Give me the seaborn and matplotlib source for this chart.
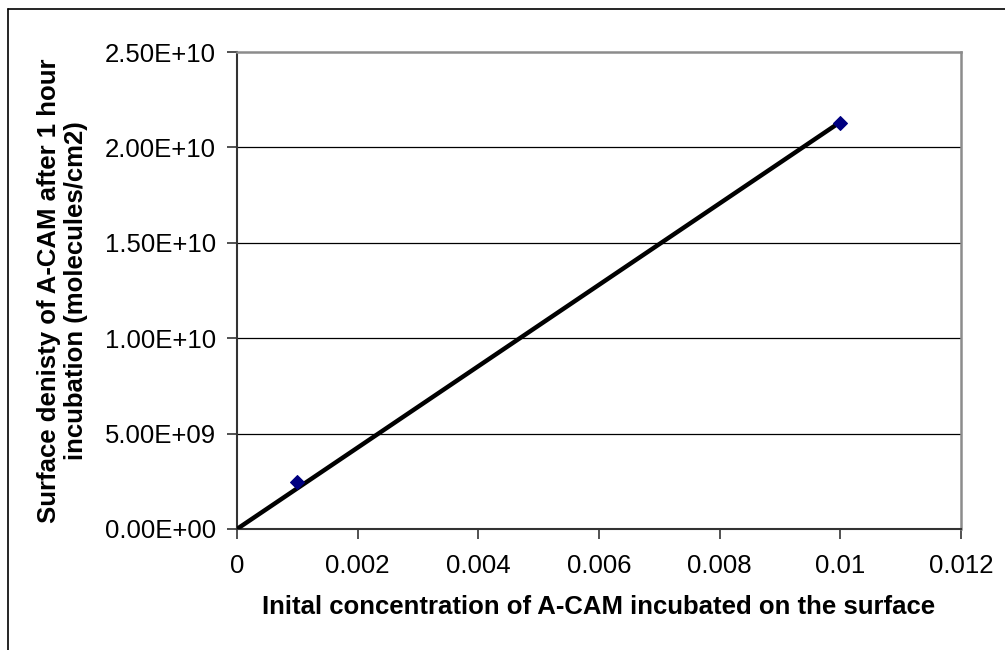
import numpy as np
import pandas as pd
import matplotlib
matplotlib.use("Agg")
import matplotlib.pyplot as plt
import seaborn as sns
from matplotlib.lines import Line2D

# ---- data ----
concentration = [0.001, 0.01]
surface_density = [2.45e9, 2.13e10]
x_ticks = [0, 0.002, 0.004, 0.006, 0.008, 0.01, 0.012]
x_tick_labels = ["0", "0.002", "0.004", "0.006", "0.008", "0.01", "0.012"]
y_ticks = [0, 5e9, 1e10, 1.5e10, 2e10, 2.5e10]
y_tick_labels = ["0.00E+00", "5.00E+09", "1.00E+10", "1.50E+10", "2.00E+10", "2.50E+10"]
x_label = "Inital concentration of A-CAM incubated on the surface"
y_label = "Surface denisty of A-CAM after 1 hour\nincubation (molecules/cm2)"

df = pd.DataFrame({"conc": concentration, "dens": surface_density})

# linear trendline through origin (Excel-style, intercept = 0)
xa = np.array(concentration)
ya = np.array(surface_density)
slope = np.sum(xa * ya) / np.sum(xa * xa)
trend = pd.DataFrame({"conc": [0.0, xa.max()]})
trend["dens"] = slope * trend["conc"]

sns.set_theme(style="white")
plt.rcParams["font.family"] = ["Liberation Sans", "DejaVu Sans"]
plt.rcParams["text.color"] = "black"
plt.rcParams["axes.labelcolor"] = "black"
plt.rcParams["xtick.color"] = "black"
plt.rcParams["ytick.color"] = "black"

fig = plt.figure(figsize=(10.05, 6.5), dpi=100)
W, H = 1005, 650
ax = fig.add_axes([237 / W, 1 - 529 / H, (961 - 237) / W, (529 - 52) / H])

for yv in y_ticks[1:-1]:
    ax.axhline(yv, color="black", lw=0.9, zorder=1)

sns.lineplot(data=trend, x="conc", y="dens", ax=ax, color="black", lw=3.2,
             zorder=3, legend=False)
sns.scatterplot(data=df, x="conc", y="dens", ax=ax, marker="D", s=50,
                color="#000080", edgecolor="#000080", linewidth=0.8,
                zorder=4, legend=False)

ax.set_xlim(0, 0.012)
ax.set_ylim(0, 2.5e10)
ax.set_xticks(x_ticks)
ax.set_xticklabels(x_tick_labels, fontsize=18.5)
ax.set_yticks(y_ticks)
ax.set_yticklabels(y_tick_labels, fontsize=18.5)
ax.tick_params(axis="both", which="major", direction="out", length=7, width=1.2,
               color="#333333", labelcolor="black", bottom=True, left=True, pad=8)
ax.tick_params(axis="x", pad=11)

ax.set_xlabel(x_label, fontsize=18.5, fontweight="bold", labelpad=12)
ax.set_ylabel(y_label, fontsize=18.5, fontweight="bold", labelpad=12,
              linespacing=1.2)

for side in ["left", "bottom"]:
    ax.spines[side].set_color("#333333")
    ax.spines[side].set_linewidth(1.5)
for side in ["top", "right"]:
    ax.spines[side].set_color("#8c8c8c")
    ax.spines[side].set_linewidth(1.8)
    ax.spines[side].set_visible(True)

# outer chart border (left and top visible, rest cropped)
fig.add_artist(Line2D([7.5 / W, 7.5 / W], [0, 1 - 8.5 / H], transform=fig.transFigure,
                      color="black", lw=1.2))
fig.add_artist(Line2D([7.5 / W, 1], [1 - 8.5 / H, 1 - 8.5 / H], transform=fig.transFigure,
                      color="black", lw=1.2))

fig.savefig("out.png", dpi=100, facecolor="white")
